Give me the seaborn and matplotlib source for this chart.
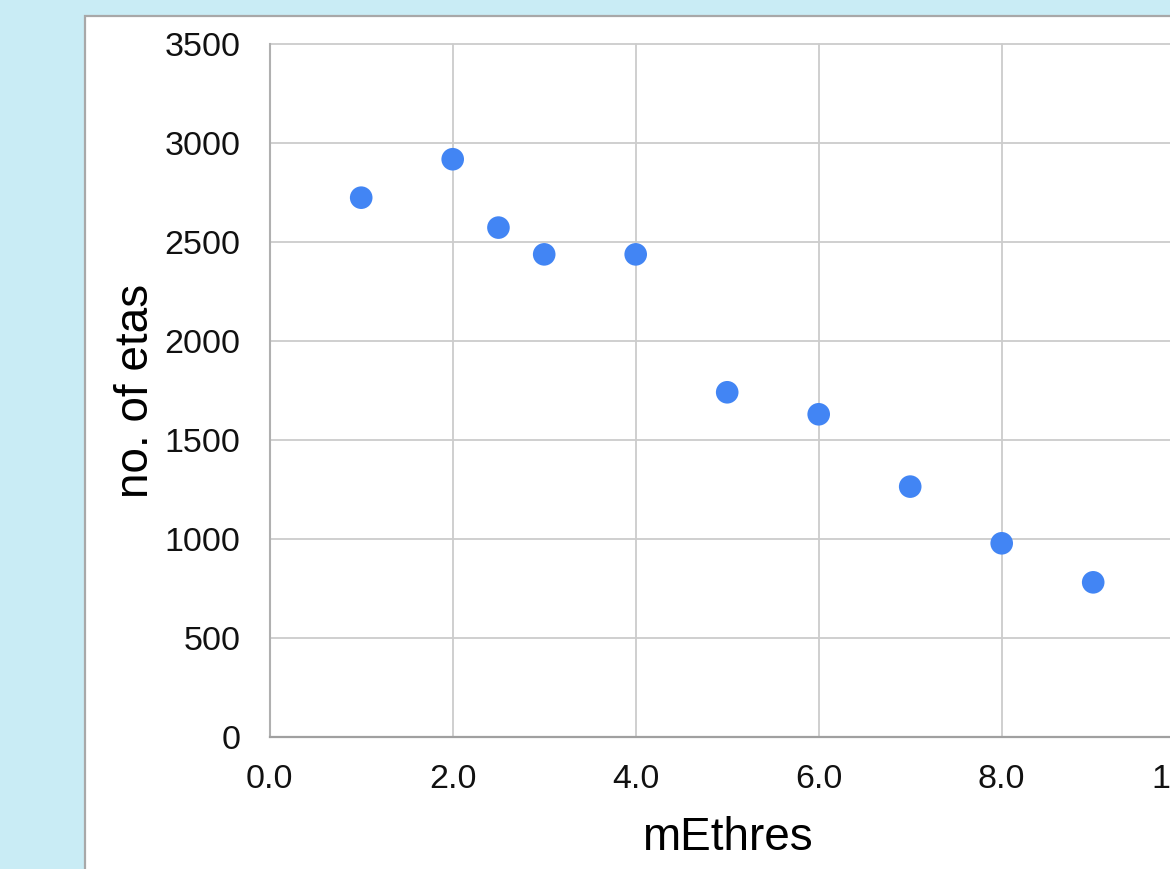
import matplotlib
matplotlib.use("Agg")
import matplotlib.pyplot as plt
from matplotlib.patches import Rectangle
from matplotlib.ticker import FormatStrFormatter, MultipleLocator
import pandas as pd
import seaborn as sns

# Number of etas found for each mEthres threshold
methres = [1, 2, 2.5, 3, 4, 5, 6, 7, 8, 9]
n_etas = [2723, 2917, 2572, 2437, 2437, 1741, 1630, 1265, 979, 782]

x_label = "mEthres"
y_label = "no. of etas"

df = pd.DataFrame({x_label: methres, y_label: n_etas})

sns.set_theme(style="whitegrid")
plt.rcParams["font.family"] = ["Liberation Sans", "DejaVu Sans"]

W, H = 1170, 869
fig = plt.figure(figsize=(W / 100, H / 100), dpi=100)
fig.patch.set_facecolor("#c9ecf5")

# White chart panel with a thin grey frame
panel = Rectangle((85 / W, -0.1), 2.0, (H - 15.5) / H + 0.1,
                  transform=fig.transFigure, facecolor="white",
                  edgecolor="#a8a8a8", linewidth=1.6, zorder=0)
fig.add_artist(panel)

ax = fig.add_axes([269.7 / W, (H - 737.3) / H, 915 / W, 693.6 / H])
ax.set_facecolor("white")

sns.scatterplot(data=df, x=x_label, y=y_label, ax=ax, s=265,
                color="#4285f4", edgecolor="none", linewidth=0, zorder=3)

ax.set_xlim(0, 10)
ax.set_ylim(0, 3500)
ax.xaxis.set_major_locator(MultipleLocator(2))
ax.yaxis.set_major_locator(MultipleLocator(500))
ax.xaxis.set_major_formatter(FormatStrFormatter("%.1f"))

ax.grid(True, color="#cccccc", linewidth=1.3)
for gl in ax.get_ygridlines() + ax.get_xgridlines():
    gl.set_clip_on(False)

for side in ("top", "right"):
    ax.spines[side].set_visible(False)
ax.spines["left"].set_color("#b0b0b0")
ax.spines["left"].set_linewidth(1.5)
ax.spines["bottom"].set_color("#a0a0a0")
ax.spines["bottom"].set_linewidth(1.6)

ax.tick_params(axis="both", length=0, labelsize=24.5, labelcolor="#111111")
ax.tick_params(axis="x", pad=19)
ax.tick_params(axis="y", pad=21)

ax.set_xlabel(x_label, fontsize=33, color="#000000", labelpad=15)
ax.set_ylabel(y_label, fontsize=33, color="#000000", labelpad=5)

fig.savefig("out.png", dpi=100, facecolor=fig.get_facecolor())
